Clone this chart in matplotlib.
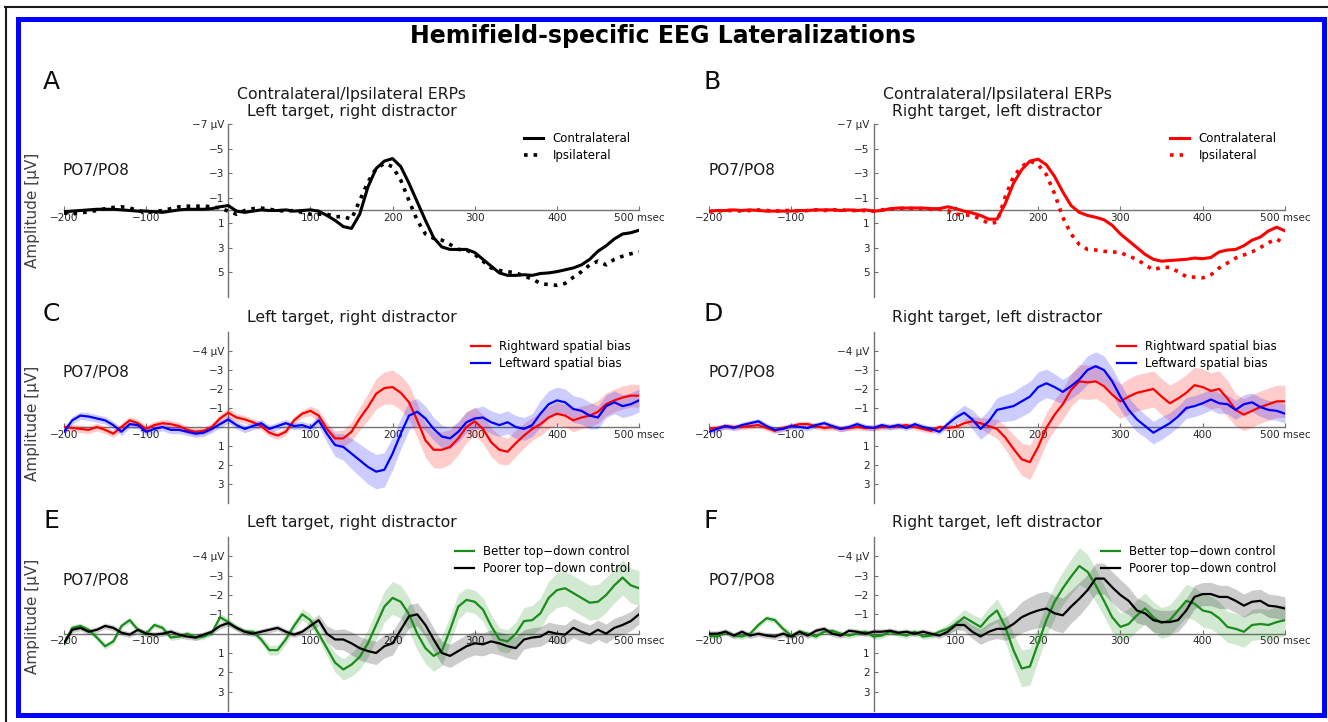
import numpy as np
import matplotlib
matplotlib.use('Agg')
import matplotlib.pyplot as plt
from matplotlib.patches import Rectangle
from matplotlib.lines import Line2D

plt.rcParams['font.family'] = ['DejaVu Sans']

# ---------------- data ----------------
times = list(range(-200, 501, 10))   # msec, 10 ms sampling

x_ticks = [-200, -100, 100, 200, 300, 400, 500]
x_tick_labels = ['\u2212200', '\u2212100', '100', '200', '300', '400', '500 msec']
erp_yticks = [-7, -5, -3, -1, 1, 3, 5]
erp_ytick_labels = ['\u22127 \u00b5V', '\u22125', '\u22123', '\u22121', '1', '3', '5']
diff_yticks = [-4, -3, -2, -1, 1, 2, 3]
diff_ytick_labels = ['\u22124 \u00b5V', '\u22123', '\u22122', '\u22121', '1', '2', '3']

fig_title = 'Hemifield-specific EEG Lateralizations'
panel_letters = ['A', 'B', 'C', 'D', 'E', 'F']
panel_titles = ['Contralateral/Ipsilateral ERPs\nLeft target, right distractor',
                'Contralateral/Ipsilateral ERPs\nRight target, left distractor',
                'Left target, right distractor',
                'Right target, left distractor',
                'Left target, right distractor',
                'Right target, left distractor']
channel_label = 'PO7/PO8'
ylabel_text = 'Amplitude [\u00b5V]'

# Panel A: left target, right distractor (contra / ipsi ERPs)
a_contra = [0.1, 0.05, 0.0, -0.05, -0.1, -0.1, -0.1, -0.05, 0.0, 0.05,
            0.05, 0.1, 0.15, 0.05, -0.05, -0.1, -0.1, -0.1, -0.15, -0.3,
            -0.4, 0.05, 0.15, 0.05, -0.05, 0.0, 0.0, -0.05, 0.05, 0.0,
            -0.05, 0.05, 0.4, 0.8, 1.3, 1.45, 0.3, -1.9, -3.4, -4.0,
            -4.2, -3.55, -2.2, -0.7, 0.8, 2.2, 2.95, 3.15, 3.15, 3.15,
            3.4, 3.95, 4.5, 5.05, 5.25, 5.25, 5.2, 5.25, 5.1, 5.05,
            4.95, 4.8, 4.65, 4.4, 3.95, 3.3, 2.85, 2.3, 1.9, 1.8,
            1.6]
a_ipsi = [0.2, 0.27, 0.2, 0.1, 0.0, -0.15, -0.25, -0.3, -0.2, 0.0,
          0.15, 0.1, 0.0, -0.15, -0.3, -0.35, -0.35, -0.35, -0.3, -0.2,
          0.05, 0.3, 0.0, -0.15, -0.2, -0.1, 0.0, 0.05, 0.0, 0.15,
          0.3, 0.3, 0.3, 0.5, 0.5, 0.7, -0.8, -2.3, -3.4, -3.8,
          -3.55, -2.45, -0.8, 0.8, 1.9, 2.25, 2.4, 2.75, 3.15, 3.2,
          3.55, 4.1, 4.65, 4.85, 4.95, 5.05, 5.3, 5.55, 5.9, 6.0,
          6.05, 5.9, 5.4, 4.95, 4.4, 4.1, 4.4, 3.95, 3.7, 3.5,
          3.35]

# Panel B: right target, left distractor
b_contra = [0.05, 0.0, 0.0, -0.05, 0.0, -0.05, 0.0, 0.05, 0.05, 0.05,
            0.05, 0.0, 0.0, -0.05, -0.05, -0.05, 0.0, -0.05, 0.0, -0.05,
            0.05, 0.0, -0.15, -0.2, -0.2, -0.2, -0.2, -0.15, -0.15, -0.3,
            -0.15, 0.05, 0.2, 0.4, 0.7, 0.7, -0.55, -2.2, -3.3, -4.0,
            -4.15, -3.7, -2.75, -1.5, -0.4, 0.15, 0.4, 0.55, 0.75, 1.2,
            1.9, 2.45, 3.0, 3.55, 3.95, 4.1, 4.05, 4.0, 3.95, 3.85,
            3.9, 3.8, 3.35, 3.2, 3.15, 2.85, 2.4, 2.15, 1.65, 1.35,
            1.65]
b_ipsi = [0.1, 0.05, 0.0, 0.0, 0.05, 0.0, -0.05, 0.0, 0.05, 0.0,
          0.0, 0.05, 0.0, -0.05, 0.0, -0.05, -0.05, 0.0, 0.0, 0.0,
          0.05, -0.05, -0.1, -0.15, -0.2, -0.15, -0.15, -0.1, -0.1, 0.0,
          0.3, 0.35, 0.4, 0.7, 1.05, 0.95, -1.1, -2.75, -3.55, -4.0,
          -3.7, -2.9, -1.35, 0.55, 1.9, 2.75, 3.15, 3.2, 3.3, 3.35,
          3.4, 3.7, 3.95, 4.4, 4.8, 4.6, 4.6, 4.95, 5.35, 5.4,
          5.45, 5.2, 4.65, 4.25, 3.85, 3.6, 3.35, 3.0, 2.6, 2.3,
          2.75]

# Panel C: left target, spatial-bias groups (mean and SEM)
c_right = [0.0, 0.05, 0.1, 0.15, 0.0, 0.15, 0.35, 0.0, -0.35, -0.2,
           0.1, -0.1, -0.2, -0.15, -0.05, 0.15, 0.25, 0.2, 0.0, -0.45,
           -0.75, -0.5, -0.4, -0.25, -0.05, 0.3, 0.45, 0.25, -0.35, -0.7,
           -0.85, -0.6, 0.1, 0.6, 0.6, 0.25, -0.45, -1.05, -1.75, -2.05,
           -2.1, -1.8, -1.3, -0.35, 0.7, 1.2, 1.2, 1.05, 0.6, 0.0,
           -0.3, 0.1, 0.8, 1.2, 1.3, 0.85, 0.45, 0.1, -0.15, -0.5,
           -0.7, -0.6, -0.35, -0.5, -0.6, -0.8, -1.2, -1.4, -1.55, -1.65,
           -1.65]
c_right_sem = [0.2, 0.2, 0.2, 0.2, 0.2, 0.2, 0.2, 0.2, 0.2, 0.2,
               0.2, 0.2, 0.2, 0.2, 0.2, 0.2, 0.2, 0.2, 0.2, 0.2,
               0.25, 0.2, 0.2, 0.2, 0.2, 0.2, 0.2, 0.2, 0.2, 0.2,
               0.25, 0.3, 0.35, 0.4, 0.45, 0.5, 0.6, 0.7, 0.8, 0.85,
               0.9, 0.9, 0.9, 0.9, 0.9, 0.95, 0.95, 0.9, 0.85, 0.8,
               0.75, 0.75, 0.75, 0.75, 0.7, 0.7, 0.65, 0.6, 0.6, 0.6,
               0.6, 0.6, 0.6, 0.6, 0.6, 0.6, 0.6, 0.6, 0.6, 0.6,
               0.6]
c_left = [0.25, -0.35, -0.6, -0.55, -0.45, -0.35, -0.1, 0.25, -0.15, -0.1,
          0.25, 0.1, 0.0, 0.15, 0.15, 0.25, 0.35, 0.3, 0.1, -0.15,
          -0.4, -0.1, 0.1, -0.05, -0.2, 0.1, -0.05, -0.2, -0.05, -0.1,
          0.05, -0.35, 0.35, 0.95, 1.05, 1.4, 1.75, 2.1, 2.35, 2.25,
          1.4, 0.35, -0.6, -0.8, -0.45, 0.1, 0.5, 0.6, 0.25, -0.25,
          -0.45, -0.5, -0.25, -0.1, -0.25, 0.0, 0.1, -0.1, -0.7, -1.2,
          -1.4, -1.3, -0.95, -0.85, -0.6, -0.5, -1.1, -1.3, -1.1, -1.2,
          -1.4]
c_left_sem = [0.2, 0.2, 0.2, 0.2, 0.2, 0.2, 0.2, 0.2, 0.2, 0.2,
              0.2, 0.2, 0.2, 0.2, 0.2, 0.2, 0.2, 0.2, 0.2, 0.2,
              0.2, 0.2, 0.2, 0.2, 0.2, 0.2, 0.2, 0.2, 0.2, 0.2,
              0.2, 0.3, 0.45, 0.6, 0.7, 0.8, 0.85, 0.9, 0.9, 0.9,
              0.85, 0.8, 0.75, 0.7, 0.65, 0.6, 0.6, 0.55, 0.55, 0.55,
              0.55, 0.6, 0.6, 0.6, 0.6, 0.6, 0.6, 0.6, 0.7, 0.7,
              0.7, 0.7, 0.7, 0.7, 0.7, 0.6, 0.6, 0.6, 0.6, 0.6,
              0.6]

# Panel D: right target, spatial-bias groups
d_right = [0.1, 0.05, -0.05, 0.0, 0.0, -0.05, -0.1, 0.05, 0.2, 0.05,
           -0.05, -0.15, -0.15, -0.05, 0.05, 0.0, 0.1, 0.05, 0.0, 0.05,
           0.05, 0.0, 0.0, -0.05, -0.1, 0.0, 0.1, 0.2, 0.0, 0.05,
           0.0, -0.2, -0.3, -0.2, -0.05, 0.1, 0.55, 1.15, 1.7, 1.85,
           1.05, 0.05, -0.65, -1.2, -1.95, -2.4, -2.35, -2.4, -2.15, -1.7,
           -1.35, -1.6, -1.8, -1.9, -2.0, -1.6, -1.25, -1.5, -1.8, -2.2,
           -2.1, -1.9, -2.0, -1.5, -0.9, -0.65, -0.85, -1.05, -1.2, -1.35,
           -1.35]
d_right_sem = [0.15, 0.15, 0.15, 0.15, 0.15, 0.15, 0.15, 0.15, 0.15, 0.15,
               0.15, 0.15, 0.15, 0.15, 0.15, 0.15, 0.15, 0.15, 0.15, 0.15,
               0.15, 0.15, 0.15, 0.15, 0.15, 0.15, 0.15, 0.15, 0.15, 0.15,
               0.15, 0.2, 0.25, 0.3, 0.4, 0.5, 0.6, 0.75, 0.85, 0.9,
               0.85, 0.8, 0.8, 0.8, 0.85, 0.9, 0.9, 0.9, 0.9, 0.9,
               0.9, 0.95, 0.95, 0.95, 0.95, 0.95, 0.95, 0.95, 0.95, 0.95,
               0.95, 0.95, 0.95, 0.95, 0.85, 0.85, 0.85, 0.85, 0.85, 0.85,
               0.85]
d_left = [0.25, 0.1, -0.05, 0.05, -0.1, -0.2, -0.3, -0.05, 0.15, 0.1,
          -0.05, 0.0, 0.05, -0.1, -0.2, -0.05, 0.1, 0.0, -0.15, 0.0,
          0.05, -0.1, 0.0, -0.1, 0.05, -0.15, 0.0, 0.1, 0.25, -0.15,
          -0.5, -0.75, -0.4, 0.1, -0.3, -0.9, -1.0, -1.1, -1.35, -1.6,
          -2.1, -2.3, -2.1, -1.85, -2.15, -2.5, -3.0, -3.2, -3.0, -2.4,
          -1.6, -0.9, -0.4, -0.05, 0.3, 0.05, -0.2, -0.55, -1.0, -1.1,
          -1.25, -1.45, -1.25, -1.2, -0.9, -1.2, -1.3, -1.05, -0.9, -0.85,
          -0.7]
d_left_sem = [0.15, 0.15, 0.15, 0.15, 0.15, 0.15, 0.15, 0.15, 0.15, 0.15,
              0.15, 0.15, 0.15, 0.15, 0.15, 0.15, 0.15, 0.15, 0.15, 0.15,
              0.15, 0.15, 0.15, 0.15, 0.15, 0.15, 0.15, 0.15, 0.15, 0.2,
              0.3, 0.4, 0.5, 0.55, 0.6, 0.65, 0.7, 0.75, 0.8, 0.8,
              0.8, 0.75, 0.7, 0.65, 0.65, 0.7, 0.75, 0.75, 0.75, 0.7,
              0.7, 0.65, 0.65, 0.6, 0.6, 0.6, 0.55, 0.55, 0.55, 0.55,
              0.55, 0.55, 0.55, 0.5, 0.5, 0.5, 0.5, 0.5, 0.5, 0.5,
              0.5]

# Panel E: left target, top-down control groups
e_better = [0.5, -0.3, -0.4, -0.2, 0.2, 0.65, 0.4, -0.4, -0.7, -0.2,
            0.0, -0.45, -0.3, 0.2, 0.15, 0.0, 0.2, 0.15, -0.05, -0.85,
            -0.6, -0.3, -0.1, -0.1, 0.3, 0.85, 0.85, 0.3, -0.4, -1.0,
            -0.7, 0.0, 0.75, 1.5, 1.85, 1.6, 1.2, 0.5, -0.45, -1.4,
            -1.85, -1.65, -1.0, 0.0, 0.75, 1.15, 0.9, -0.2, -1.4, -1.75,
            -1.65, -1.25, -0.4, 0.3, 0.4, 0.0, -0.65, -0.7, -1.05, -1.85,
            -2.25, -2.35, -2.1, -1.85, -1.6, -1.65, -2.0, -2.5, -2.9, -2.5,
            -2.35]
e_better_sem = [0.15, 0.15, 0.15, 0.15, 0.15, 0.15, 0.15, 0.15, 0.15, 0.15,
                0.15, 0.15, 0.15, 0.15, 0.15, 0.15, 0.15, 0.15, 0.15, 0.2,
                0.2, 0.15, 0.15, 0.15, 0.2, 0.25, 0.25, 0.25, 0.25, 0.3,
                0.3, 0.3, 0.4, 0.5, 0.55, 0.6, 0.65, 0.7, 0.75, 0.8,
                0.85, 0.85, 0.85, 0.85, 0.8, 0.8, 0.75, 0.7, 0.65, 0.6,
                0.6, 0.6, 0.6, 0.6, 0.6, 0.6, 0.7, 0.75, 0.8, 0.85,
                0.9, 0.9, 0.9, 0.9, 0.9, 0.9, 0.9, 0.9, 0.9, 0.9,
                0.9]
e_poorer = [0.5, -0.2, -0.3, -0.1, -0.2, -0.4, -0.3, -0.05, 0.05, -0.2,
            0.0, 0.05, 0.0, -0.1, 0.05, 0.15, 0.2, 0.05, -0.1, -0.4,
            -0.55, -0.3, -0.1, 0.0, -0.1, -0.2, -0.3, -0.1, 0.05, -0.1,
            -0.4, -0.7, 0.0, 0.3, 0.3, 0.5, 0.75, 0.9, 1.0, 0.65,
            0.5, -0.2, -0.9, -1.0, -0.45, 0.3, 1.0, 1.15, 0.9, 0.65,
            0.5, 0.55, 0.4, 0.5, 0.65, 0.75, 0.3, 0.2, 0.15, -0.1,
            0.0, 0.05, -0.3, -0.1, 0.05, -0.2, 0.0, -0.3, -0.45, -0.65,
            -1.0]
e_poorer_sem = [0.15, 0.15, 0.15, 0.15, 0.15, 0.15, 0.15, 0.15, 0.15, 0.15,
                0.15, 0.15, 0.15, 0.15, 0.15, 0.15, 0.15, 0.15, 0.15, 0.15,
                0.15, 0.15, 0.15, 0.15, 0.15, 0.15, 0.15, 0.15, 0.15, 0.15,
                0.25, 0.3, 0.4, 0.5, 0.55, 0.6, 0.6, 0.6, 0.6, 0.6,
                0.6, 0.6, 0.6, 0.6, 0.6, 0.6, 0.6, 0.6, 0.6, 0.6,
                0.6, 0.6, 0.6, 0.6, 0.6, 0.6, 0.5, 0.5, 0.5, 0.5,
                0.5, 0.5, 0.5, 0.5, 0.5, 0.5, 0.5, 0.5, 0.5, 0.5,
                0.5]

# Panel F: right target, top-down control groups
f_better = [0.1, 0.15, -0.1, 0.1, 0.15, 0.0, -0.45, -0.8, -0.7, -0.25,
            0.1, -0.1, 0.0, 0.15, -0.1, -0.15, 0.0, 0.1, 0.0, -0.1,
            0.15, 0.1, -0.1, 0.0, 0.1, -0.1, 0.15, 0.1, -0.1, -0.25,
            -0.5, -0.85, -0.6, -0.35, -0.85, -1.2, -0.35, 0.85, 1.8, 1.7,
            0.5, -0.7, -1.65, -2.35, -2.95, -3.5, -3.2, -2.5, -1.7, -0.85,
            -0.35, -0.5, -0.95, -1.3, -0.85, -0.55, -0.7, -1.2, -1.7, -1.55,
            -1.2, -1.1, -0.8, -0.35, -0.25, -0.1, -0.45, -0.5, -0.45, -0.6,
            -0.7]
f_better_sem = [0.15, 0.15, 0.15, 0.15, 0.15, 0.15, 0.15, 0.15, 0.15, 0.15,
                0.15, 0.15, 0.15, 0.15, 0.15, 0.15, 0.15, 0.15, 0.15, 0.15,
                0.15, 0.15, 0.15, 0.15, 0.15, 0.15, 0.15, 0.15, 0.15, 0.25,
                0.35, 0.4, 0.4, 0.45, 0.5, 0.6, 0.75, 0.85, 0.95, 0.95,
                0.9, 0.85, 0.85, 0.85, 0.9, 0.95, 0.9, 0.85, 0.8, 0.75,
                0.7, 0.8, 0.8, 0.8, 0.8, 0.8, 0.8, 0.8, 0.85, 0.85,
                0.85, 0.85, 0.85, 0.8, 0.8, 0.8, 0.8, 0.8, 0.8, 0.8,
                0.8]
f_poorer = [0.0, 0.0, -0.1, 0.1, -0.1, 0.1, 0.0, 0.1, 0.15, 0.0,
            0.15, -0.1, 0.1, -0.15, -0.25, 0.0, 0.1, -0.15, -0.1, 0.0,
            -0.1, -0.1, -0.15, -0.05, -0.1, 0.0, -0.1, 0.0, 0.1, -0.1,
            -0.45, -0.45, -0.1, 0.15, -0.1, -0.25, -0.25, -0.5, -0.85, -1.05,
            -1.2, -1.3, -1.05, -0.95, -1.4, -1.8, -2.25, -2.85, -2.85, -2.4,
            -2.0, -1.7, -1.2, -1.05, -0.7, -0.6, -0.6, -0.7, -1.2, -1.9,
            -2.05, -2.05, -1.9, -1.9, -1.7, -1.45, -1.65, -1.7, -1.45, -1.4,
            -1.3]
f_poorer_sem = [0.15, 0.15, 0.15, 0.15, 0.15, 0.15, 0.15, 0.15, 0.15, 0.15,
                0.15, 0.15, 0.15, 0.15, 0.15, 0.15, 0.15, 0.15, 0.15, 0.15,
                0.15, 0.15, 0.15, 0.15, 0.15, 0.15, 0.15, 0.15, 0.15, 0.15,
                0.25, 0.3, 0.35, 0.4, 0.45, 0.5, 0.6, 0.7, 0.8, 0.85,
                0.9, 0.9, 0.9, 0.9, 0.85, 0.85, 0.8, 0.8, 0.8, 0.8,
                0.8, 0.7, 0.65, 0.6, 0.6, 0.6, 0.6, 0.6, 0.6, 0.6,
                0.6, 0.6, 0.6, 0.6, 0.6, 0.6, 0.6, 0.6, 0.6, 0.6,
                0.6]

# ---------------- figure ----------------
W, H = 1328, 722
fig = plt.figure(figsize=(W / 100, H / 100), dpi=100)


def fx(px):
    return px / W


def fy(py):
    return 1 - py / H


RED, BLUE, GREEN, BLACK = '#ff0000', '#0000ff', '#1a8c1a', '#000000'

col_x = [(64, 639), (709, 1285)]
row_y = [(124, 297), (332, 503), (537, 711)]

panels = [
    dict(letter='A', title=panel_titles[0], col=0, row=0, pad=5.8, kind='erp',
         series=[(a_contra, None, BLACK, '-', 2.2, 'Contralateral'),
                 (a_ipsi, None, BLACK, ':', 2.6, 'Ipsilateral')]),
    dict(letter='B', title=panel_titles[1], col=1, row=0, pad=5.8, kind='erp',
         series=[(b_contra, None, RED, '-', 2.2, 'Contralateral'),
                 (b_ipsi, None, RED, ':', 2.6, 'Ipsilateral')]),
    dict(letter='C', title=panel_titles[2], col=0, row=1, pad=7.5, kind='diff',
         series=[(c_right, c_right_sem, RED, '-', 1.6, 'Rightward spatial bias'),
                 (c_left, c_left_sem, BLUE, '-', 1.6, 'Leftward spatial bias')]),
    dict(letter='D', title=panel_titles[3], col=1, row=1, pad=7.5, kind='diff',
         series=[(d_right, d_right_sem, RED, '-', 1.6, 'Rightward spatial bias'),
                 (d_left, d_left_sem, BLUE, '-', 1.6, 'Leftward spatial bias')]),
    dict(letter='E', title=panel_titles[4], col=0, row=2, pad=7.0, kind='diff',
         series=[(e_better, e_better_sem, GREEN, '-', 1.6, 'Better top\u2212down control'),
                 (e_poorer, e_poorer_sem, BLACK, '-', 1.6, 'Poorer top\u2212down control')]),
    dict(letter='F', title=panel_titles[5], col=1, row=2, pad=7.0, kind='diff',
         series=[(f_better, f_better_sem, GREEN, '-', 1.6, 'Better top\u2212down control'),
                 (f_poorer, f_poorer_sem, BLACK, '-', 1.6, 'Poorer top\u2212down control')]),
]

letter_baseline = [89, 321, 528]
channel_baseline = [175, 377, 585]
ylabel_center = [210, 423, 616]

for p in panels:
    x0, x1 = col_x[p['col']]
    y0, y1 = row_y[p['row']]
    ax = fig.add_axes([fx(x0), fy(y1), fx(x1 - x0), (y1 - y0) / H])
    ax.patch.set_alpha(0)
    for vals, sem, color, ls, lw, label in p['series']:
        if sem is not None:
            lo = [v - s for v, s in zip(vals, sem)]
            hi = [v + s for v, s in zip(vals, sem)]
            ax.fill_between(times, lo, hi, color=color, alpha=0.2, lw=0, zorder=2)
        ax.plot(times, vals, color=color, ls=ls, lw=lw, label=label, zorder=3)
    ax.set_xlim(-200, 500)
    if p['kind'] == 'erp':
        ax.set_ylim(7, -7)
        ax.set_yticks(erp_yticks)
        ax.set_yticklabels(erp_ytick_labels)
    else:
        ax.set_ylim(4, -5)
        ax.set_yticks(diff_yticks)
        ax.set_yticklabels(diff_ytick_labels)
    ax.set_xticks(x_ticks)
    ax.set_xticklabels(x_tick_labels)
    for s in ('top', 'right'):
        ax.spines[s].set_visible(False)
    for s in ('left', 'bottom'):
        ax.spines[s].set_position(('data', 0))
        ax.spines[s].set_color('0.45')
        ax.spines[s].set_linewidth(1.0)
        ax.spines[s].set_zorder(1)
    ax.tick_params(axis='both', direction='in', length=3, width=0.8,
                   color='0.45', labelcolor='0.15', labelsize=7.5)
    ax.tick_params(axis='x', pad=2)
    ax.tick_params(axis='y', pad=3)
    ax.set_title(p['title'], fontsize=11.3, pad=p['pad'], color='0.1')
    ax.legend(loc='upper right', frameon=False, fontsize=8.5, handlelength=1.6,
              handletextpad=0.8, labelspacing=0.35, borderaxespad=0.3)

    r = p['row']
    lx = 43 if p['col'] == 0 else 703
    fig.text(fx(lx), fy(letter_baseline[r]), p['letter'], fontsize=18,
             va='baseline', ha='left', color='0.05')
    fig.text(fx(x0 - 1), fy(channel_baseline[r]), channel_label, fontsize=11,
             va='baseline', ha='left', color='0.1')
    if p['col'] == 0:
        fig.text(fx(33), fy(ylabel_center[r]), ylabel_text, fontsize=11,
                 rotation=90, ha='center', va='center', color='0.25')

fig.text(fx(662.5), fy(43), fig_title, ha='center', va='baseline',
         fontsize=17, fontweight='bold')

# outer frame lines and blue border
fig.add_artist(Line2D([fx(5), 1.0], [fy(7), fy(7)], transform=fig.transFigure,
                      color='#1a1a1a', lw=1.5))
fig.add_artist(Line2D([fx(6), fx(6)], [0.0, fy(7)], transform=fig.transFigure,
                      color='#1a1a1a', lw=1.5))
fig.add_artist(Rectangle((fx(17.5), fy(714.5)), fx(1323.5 - 17.5), (714.5 - 18.5) / H,
                         transform=fig.transFigure, fill=False,
                         edgecolor='#0000ff', lw=3.6, zorder=10))

fig.savefig('out.png', dpi=100)
